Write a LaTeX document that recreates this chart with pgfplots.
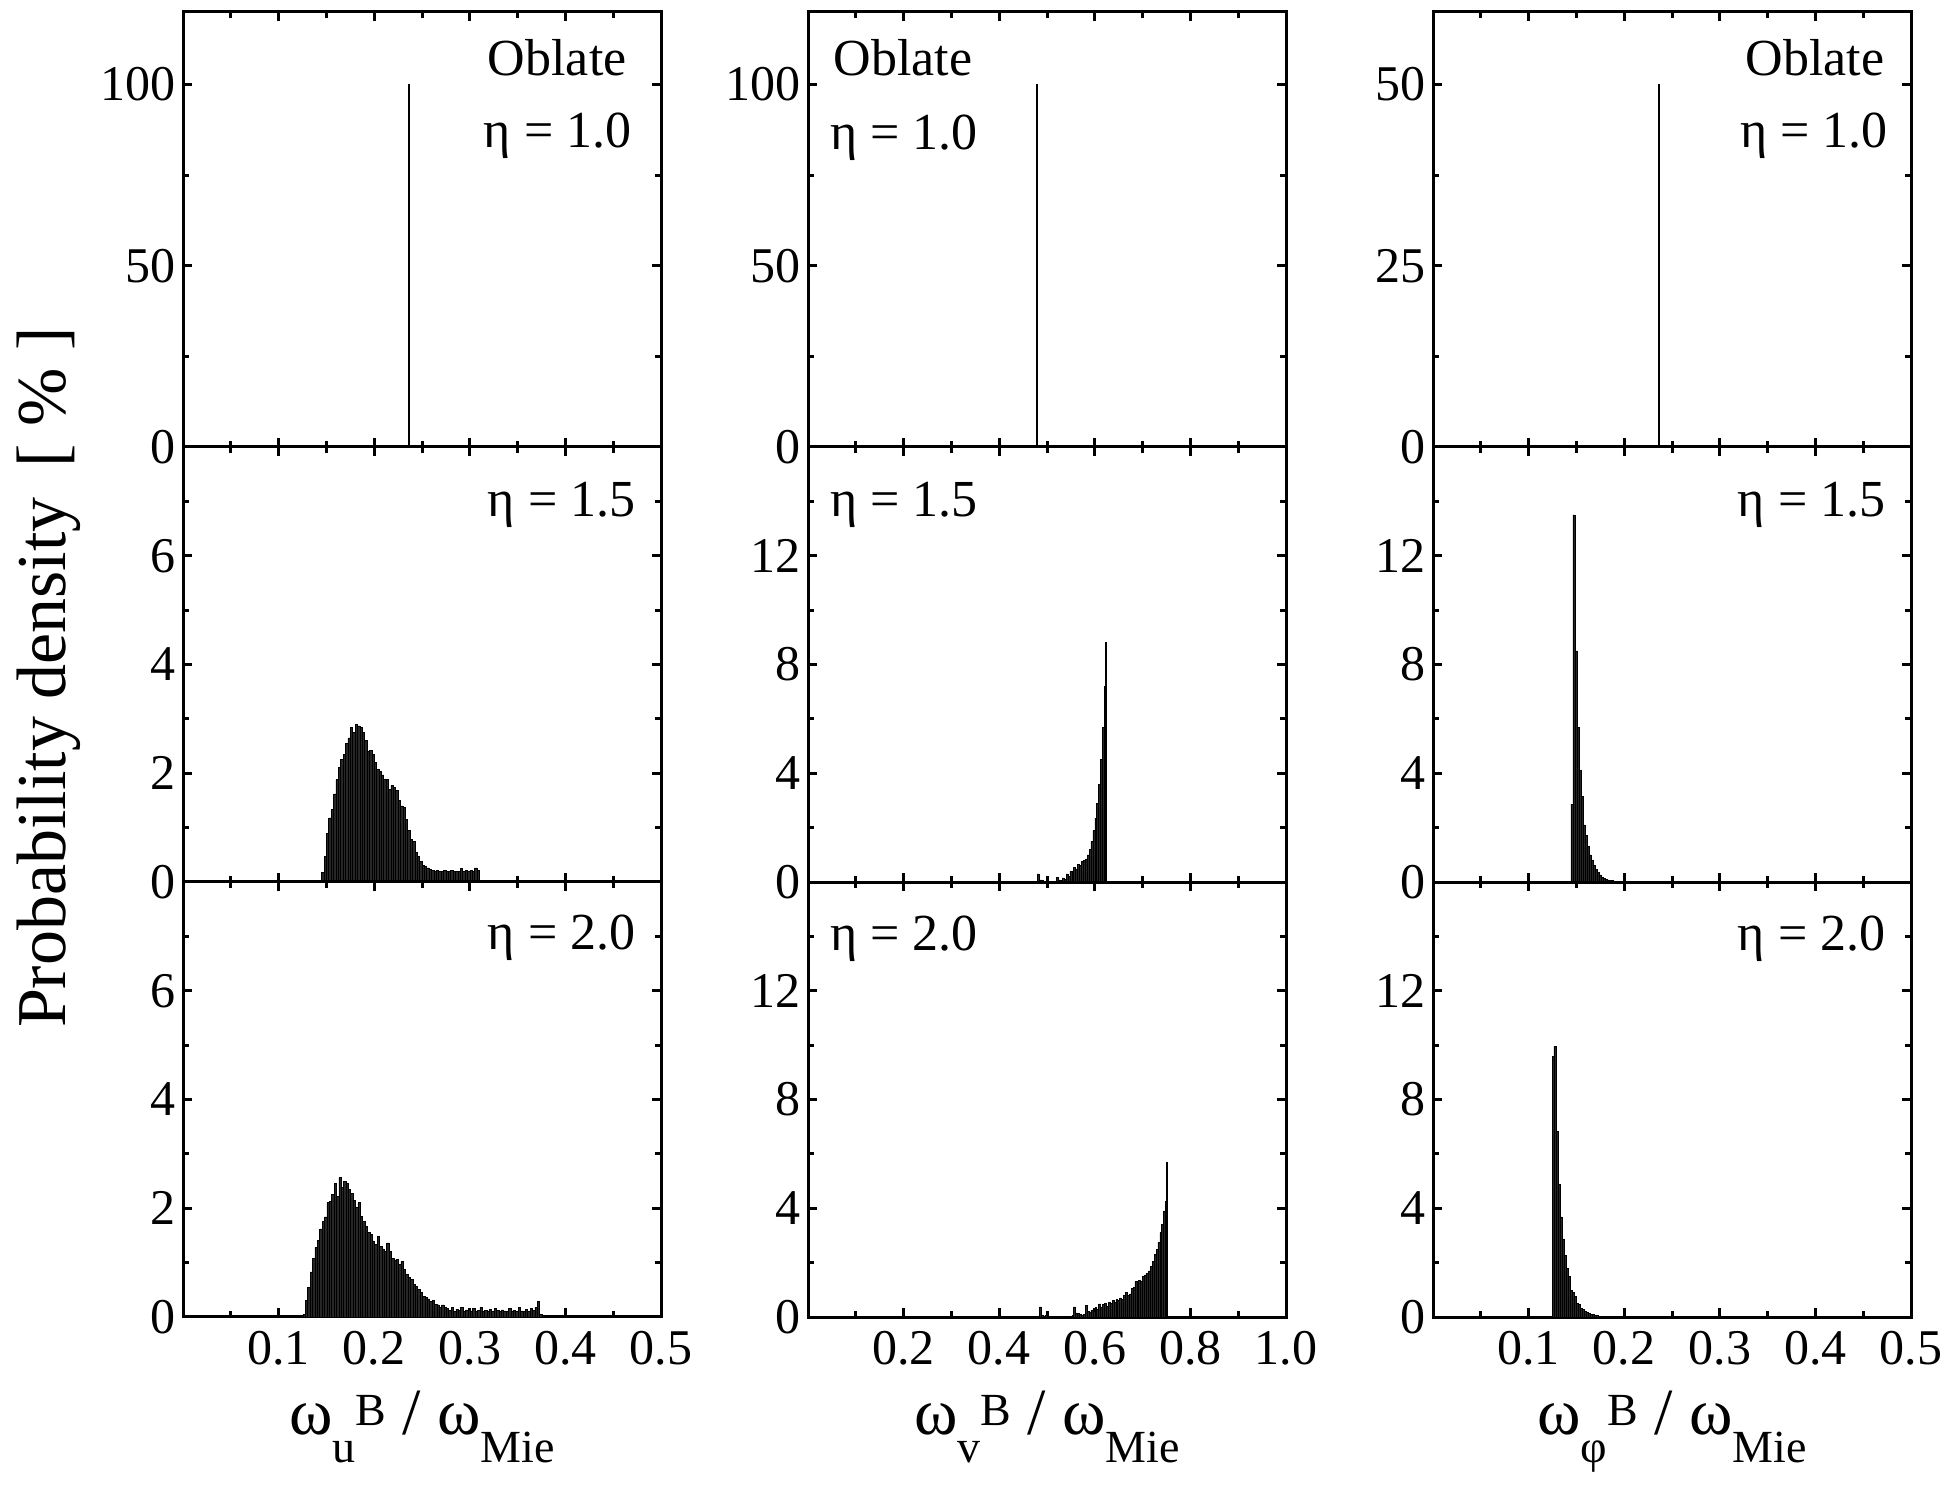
\documentclass[border=0pt]{standalone}
\usepackage{fontspec}
\setmainfont{Liberation Serif}
\usepackage{pgfplots}
\pgfplotsset{compat=1.18}
\usepgfplotslibrary{groupplots}
\usetikzlibrary{calc}

\newcommand{\annot}{\fontsize{13}{15}\selectfont}
\newcommand{\sm}{\fontsize{11.5}{12}\selectfont}
\newcommand{\wlab}[1]{{\fontsize{16.5}{18}\selectfont ω\raisebox{-7pt}{\sm #1}\raisebox{2.2pt}{\sm B} / ω\raisebox{-7pt}{\sm Mie}}}

\pgfplotsset{
  panel/.style={
    scale only axis, width=119.5pt, height=108.75pt,
    axis line style={line width=0.75pt},
    every tick/.style={black, line width=0.75pt},
    major tick length=2.2pt, minor tick length=1.4pt,
    tick align=inside, xtick pos=both, ytick pos=both,
    tick label style={font=\fontsize{12.5}{14}\selectfont},
    /pgf/number format/assume math mode=true,
    yticklabel style={xshift=1.7pt},
    xticklabel style={/pgf/number format/.cd, fixed, fixed zerofill, precision=1},
    scaled x ticks=false,
  },
  hist/.style={ybar interval, fill=black!85, draw=black, line width=0.15pt},
  spike/.style={ycomb, black, line width=0.45pt, mark=none},
  colA/.style={xmin=0, xmax=0.5, xtick={0.1,0.2,0.3,0.4,0.5},
    minor xtick={0.05,0.15,0.25,0.35,0.45}},
  colB/.style={xmin=0, xmax=1, xtick={0.2,0.4,0.6,0.8,1.0},
    minor xtick={0.1,0.3,0.5,0.7,0.9}},
  topA/.style={ymin=0, ymax=120, ytick={0,50,100}, minor ytick={25,75}},
  topC/.style={ymin=0, ymax=60, ytick={0,25,50}, minor ytick={12.5,37.5}},
  lowA/.style={ymin=0, ymax=8, ytick={0,2,4,6}, minor ytick={1,3,5,7}},
  lowB/.style={ymin=0, ymax=16, ytick={0,4,8,12}, minor ytick={2,6,10,14}},
}

\begin{document}
\begin{tikzpicture}
\begin{groupplot}[
  group style={group size=3 by 3, horizontal sep=36.75pt, vertical sep=0pt,
    xticklabels at=edge bottom},
  panel,
]
% ---- row 1 : eta = 1.0
\nextgroupplot[colA, topA]
\addplot[spike] coordinates {(0.2367,100)};
\node[anchor=base east, font=\annot, inner sep=0pt, xshift=-8.4pt, yshift=-16pt] at (rel axis cs:1,1) {Oblate};
\node[anchor=base east, font=\annot, inner sep=0pt, xshift=-7.2pt, yshift=-34pt] at (rel axis cs:1,1) {η = 1.0};

\nextgroupplot[colB, topA]
\addplot[spike] coordinates {(0.479,100)};
\node[anchor=base west, font=\annot, inner sep=0pt, xshift=6.2pt, yshift=-16pt] at (rel axis cs:0,1) {Oblate};
\node[anchor=base west, font=\annot, inner sep=0pt, xshift=5.3pt, yshift=-34.5pt] at (rel axis cs:0,1) {η = 1.0};

\nextgroupplot[colA, topC]
\addplot[spike] coordinates {(0.2365,50)};
\node[anchor=base east, font=\annot, inner sep=0pt, xshift=-6.5pt, yshift=-16pt] at (rel axis cs:1,1) {Oblate};
\node[anchor=base east, font=\annot, inner sep=0pt, xshift=-5.6pt, yshift=-34pt] at (rel axis cs:1,1) {η = 1.0};

% ---- row 2 : eta = 1.5
\nextgroupplot[colA, lowA]
\addplot[hist] coordinates {
(0.1450,0.18)(0.1475,0.47)(0.1500,0.90)(0.1525,1.18)(0.1550,1.33)(0.1575,1.62)
(0.1600,1.88)(0.1625,2.10)(0.1650,2.25)(0.1675,2.35)(0.1700,2.55)(0.1725,2.65)
(0.1750,2.85)(0.1775,2.75)(0.1800,2.90)(0.1825,2.87)(0.1850,2.85)(0.1875,2.75)
(0.1900,2.60)(0.1925,2.41)(0.1950,2.42)(0.1975,2.34)(0.2000,2.20)(0.2025,2.07)
(0.2050,2.03)(0.2075,1.97)(0.2100,1.89)(0.2125,1.89)(0.2150,1.70)(0.2175,1.78)
(0.2200,1.74)(0.2225,1.69)(0.2250,1.50)(0.2275,1.40)(0.2300,1.37)(0.2325,1.15)
(0.2350,0.95)(0.2375,0.78)(0.2400,0.74)(0.2425,0.54)(0.2450,0.47)(0.2475,0.38)
(0.2500,0.30)(0.2525,0.28)(0.2550,0.26)(0.2575,0.23)(0.2600,0.21)(0.2625,0.20)
(0.2650,0.22)(0.2675,0.20)(0.2700,0.19)(0.2725,0.21)(0.2750,0.20)(0.2775,0.20)
(0.2800,0.22)(0.2825,0.19)(0.2850,0.20)(0.2875,0.20)(0.2900,0.25)(0.2925,0.20)
(0.2950,0.21)(0.2975,0.20)(0.3000,0.22)(0.3025,0.20)(0.3050,0.26)(0.3075,0.22)
(0.3100,0)
};
\node[anchor=base east, font=\annot, inner sep=0pt, xshift=-6.2pt, yshift=-17.5pt] at (rel axis cs:1,1) {η = 1.5};

\nextgroupplot[colB, lowB]
\addplot[hist] coordinates {
(0.480,0.30)(0.484,0.08)(0.488,0.05)(0.492,0.03)(0.496,0.03)(0.500,0.02)
(0.504,0.02)(0.508,0.02)(0.512,0.03)(0.516,0.03)(0.520,0.18)(0.524,0.08)
(0.528,0.05)(0.532,0.15)(0.536,0.10)(0.540,0.30)(0.544,0.20)(0.548,0.40)
(0.552,0.30)(0.556,0.55)(0.560,0.45)(0.564,0.65)(0.568,0.60)(0.572,0.75)
(0.576,0.80)(0.580,0.85)(0.584,1.00)(0.588,1.20)(0.592,1.50)(0.596,1.90)
(0.600,2.35)(0.604,2.90)(0.608,3.60)(0.612,4.50)(0.616,5.70)(0.620,7.20)
(0.6225,8.80)(0.6245,0)
};
\node[anchor=base west, font=\annot, inner sep=0pt, xshift=5.3pt, yshift=-17.5pt] at (rel axis cs:0,1) {η = 1.5};

\nextgroupplot[colA, lowB]
\addplot[hist] coordinates {
(0.1443,2.86)(0.1464,13.5)(0.1485,8.50)(0.1506,5.70)(0.1527,4.10)(0.1548,3.15)
(0.1569,2.10)(0.1590,1.70)(0.1611,1.30)(0.1632,1.00)(0.1653,0.80)(0.1674,0.60)
(0.1695,0.45)(0.1716,0.36)(0.1737,0.26)(0.1758,0.18)(0.1779,0.14)(0.1800,0.11)
(0.1821,0.08)(0.1842,0.06)(0.1863,0.05)(0.1884,0.04)(0.1905,0.03)(0.1926,0.02)
(0.1947,0.02)(0.1968,0.01)(0.1989,0)
};
\node[anchor=base east, font=\annot, inner sep=0pt, xshift=-6.2pt, yshift=-17.5pt] at (rel axis cs:1,1) {η = 1.5};

% ---- row 3 : eta = 2.0
\nextgroupplot[colA, lowA]
\addplot[hist] coordinates {
(0.1255,0.05)(0.1280,0.30)(0.1305,0.55)(0.1330,0.83)(0.1355,1.07)(0.1380,1.28)
(0.1405,1.41)(0.1430,1.62)(0.1455,1.75)(0.1480,1.84)(0.1505,2.10)(0.1530,2.12)
(0.1555,2.25)(0.1580,2.45)(0.1605,2.22)(0.1630,2.56)(0.1655,2.38)(0.1680,2.50)
(0.1705,2.45)(0.1730,2.34)(0.1755,2.27)(0.1780,2.14)(0.1805,2.02)(0.1830,2.10)
(0.1855,1.85)(0.1880,1.75)(0.1905,1.67)(0.1930,1.55)(0.1955,1.52)(0.1980,1.40)
(0.2005,1.34)(0.2030,1.48)(0.2055,1.30)(0.2080,1.25)(0.2105,1.20)(0.2130,1.36)
(0.2155,1.21)(0.2180,1.08)(0.2205,1.05)(0.2230,1.06)(0.2255,0.96)(0.2280,1.02)
(0.2305,0.87)(0.2330,0.78)(0.2355,0.73)(0.2380,0.69)(0.2405,0.60)(0.2430,0.56)
(0.2455,0.50)(0.2480,0.45)(0.2505,0.38)(0.2530,0.36)(0.2555,0.33)(0.2580,0.28)
(0.2605,0.30)(0.2630,0.23)(0.2655,0.22)(0.2680,0.18)(0.2705,0.22)(0.2730,0.18)
(0.2755,0.15)(0.2780,0.12)(0.2805,0.17)(0.2830,0.10)(0.2855,0.14)(0.2880,0.12)
(0.2905,0.18)(0.2930,0.10)(0.2955,0.13)(0.2980,0.12)(0.3005,0.11)(0.3030,0.16)
(0.3055,0.10)(0.3080,0.12)(0.3105,0.17)(0.3130,0.10)(0.3155,0.12)(0.3180,0.11)
(0.3205,0.14)(0.3230,0.10)(0.3255,0.15)(0.3280,0.12)(0.3305,0.10)(0.3330,0.13)
(0.3355,0.11)(0.3380,0.10)(0.3405,0.16)(0.3430,0.11)(0.3455,0.12)(0.3480,0.10)
(0.3505,0.17)(0.3530,0.11)(0.3555,0.10)(0.3580,0.14)(0.3605,0.10)(0.3630,0.16)
(0.3655,0.12)(0.3680,0.18)(0.3705,0.28)(0.3730,0.05)(0.3755,0)
};
\node[anchor=base east, font=\annot, inner sep=0pt, xshift=-6.2pt, yshift=-17pt] at (rel axis cs:1,1) {η = 2.0};

\nextgroupplot[colB, lowB]
\addplot[hist] coordinates {
(0.484,0.37)(0.488,0.06)(0.492,0.04)(0.496,0.05)(0.500,0.04)(0.504,0.03)
(0.508,0.03)(0.512,0.03)(0.516,0.03)(0.520,0.03)(0.524,0.03)(0.528,0.03)
(0.532,0.03)(0.536,0.03)(0.540,0.03)(0.544,0.03)(0.548,0.03)(0.552,0.05)
(0.556,0.37)(0.560,0.15)(0.564,0.12)(0.568,0.10)(0.572,0.05)(0.576,0.10)
(0.580,0.43)(0.584,0.20)(0.588,0.18)(0.592,0.25)(0.596,0.20)(0.600,0.35)
(0.604,0.30)(0.608,0.48)(0.612,0.35)(0.616,0.45)(0.620,0.50)(0.624,0.40)
(0.628,0.55)(0.632,0.50)(0.636,0.60)(0.640,0.55)(0.644,0.65)(0.648,0.60)
(0.652,0.70)(0.656,0.65)(0.660,0.80)(0.664,0.90)(0.668,0.80)(0.672,0.85)
(0.676,1.05)(0.680,1.10)(0.684,1.30)(0.688,1.20)(0.692,1.35)(0.696,1.30)
(0.700,1.50)(0.704,1.55)(0.708,1.60)(0.712,1.70)(0.716,1.85)(0.720,2.05)
(0.724,2.30)(0.728,2.50)(0.732,2.75)(0.736,3.10)(0.740,3.40)(0.744,3.90)
(0.748,4.25)(0.7505,5.70)(0.7525,0)
};
\node[anchor=base west, font=\annot, inner sep=0pt, xshift=5.3pt, yshift=-17pt] at (rel axis cs:0,1) {η = 2.0};

\nextgroupplot[colA, lowB]
\addplot[hist] coordinates {
(0.1251,9.60)(0.1265,9.95)(0.1286,6.83)(0.1307,4.87)(0.1328,3.68)(0.1349,2.87)
(0.1370,2.28)(0.1391,1.80)(0.1412,1.50)(0.1433,0.98)(0.1454,0.90)(0.1475,0.76)
(0.1496,0.49)(0.1517,0.45)(0.1538,0.33)(0.1559,0.29)(0.1580,0.21)(0.1601,0.17)
(0.1622,0.12)(0.1643,0.09)(0.1664,0.09)(0.1685,0.05)(0.1706,0.05)(0.1727,0.02)
(0.1748,0.02)(0.1769,0)
};
\node[anchor=base east, font=\annot, inner sep=0pt, xshift=-6.2pt, yshift=-17pt] at (rel axis cs:1,1) {η = 2.0};
\end{groupplot}

% axis titles
\node[anchor=base] at ($(group c1r3.south)+(0,-29.3pt)$) {\wlab{u}};
\node[anchor=base] at ($(group c2r3.south)+(0,-29.3pt)$) {\wlab{v}};
\node[anchor=base] at ($(group c3r3.south)+(0,-29.3pt)$) {\wlab{φ}};
\node[rotate=90, anchor=north, inner sep=0pt, font=\fontsize{17.5}{19}\selectfont]
  at ($(group c1r1.north west)+(-41.6pt,-166.4pt)$) {Probability density\hspace{7.5pt}[ \% ]};

\pgfresetboundingbox
\path ($(group c1r1.north west)+(-45.75pt,3pt)$) rectangle ($(group c3r3.south east)+(10.25pt,-47.25pt)$);
\end{tikzpicture}
\end{document}
